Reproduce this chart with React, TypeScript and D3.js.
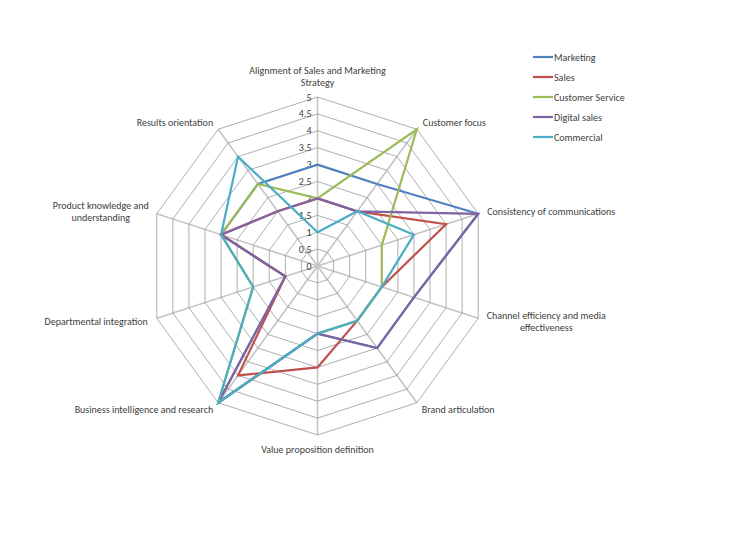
import React from "react";
import * as d3 from "d3";

const categories = [
  ["Alignment of Sales and Marketing", "Strategy"],
  ["Customer focus"],
  ["Consistency of communications"],
  ["Channel efficiency and media", "effectiveness"],
  ["Brand articulation"],
  ["Value proposition definition"],
  ["Business intelligence and research"],
  ["Departmental integration"],
  ["Product knowledge and", "understanding"],
  ["Results orientation"],
];

const seriesNames = ["Marketing", "Sales", "Customer Service", "Digital sales", "Commercial"];
const seriesColors = ["#4F81BD", "#C0504D", "#9BBB59", "#8064A2", "#4BACC6"];

const marketing = [3, 3, 5, 3, 3, 2, 5, 1, 3, 3];
const sales = [2, 2, 4, 2, 2, 3, 4, 1, 3, 2];
const customerService = [2, 5, 2, 2, 2, 2, 5, 2, 3, 3];
const digitalSales = [2, 2, 5, 3, 3, 2, 5, 1, 3, 2];
const commercial = [1, 2, 3, 2, 2, 2, 5, 2, 3, 4];

const seriesValues = [marketing, sales, customerService, digitalSales, commercial];
const ticks = [0, 0.5, 1, 1.5, 2, 2.5, 3, 3.5, 4, 4.5, 5];

// label anchors: [anchor, dx, dy] relative to the outer vertex
const labelPlacement: [string, number, number][] = [
  ["middle", 0, -23],
  ["start", 6, -3],
  ["start", 9, 1],
  ["middle", 68, 1],
  ["start", 5, 10],
  ["middle", 0, 18],
  ["end", -5, 10],
  ["end", -9, 7],
  ["middle", -56, -5],
  ["end", -5, -3],
];

export default function App() {
  const W = 749;
  const H = 534;
  const cx = 317.5;
  const cy = 266;
  const R = 169;
  const n = categories.length;
  const r = d3.scaleLinear().domain([0, 5]).range([0, R]);
  const angle = (i: number) => (i * 2 * Math.PI) / n;
  const pt = (i: number, v: number): [number, number] => [
    cx + r(v) * Math.sin(angle(i)),
    cy - r(v) * Math.cos(angle(i)),
  ];
  const line = d3
    .line<number>()
    .x((v, i) => pt(i, v)[0])
    .y((v, i) => pt(i, v)[1])
    .curve(d3.curveLinearClosed);
  const font = "Carlito, Calibri, Lato, sans-serif";
  const fs = 10;

  return (
    <svg
      width={W}
      height={H}
      style={{ position: "absolute", left: 0, top: 0, background: "#fff" }}
      fontFamily={font}
    >
      {/* spokes */}
      {categories.map((_, i) => {
        const [x, y] = pt(i, 5);
        return <line key={"s" + i} x1={cx} y1={cy} x2={x} y2={y} stroke="#c4c4c4" strokeWidth={1.6} />;
      })}
      {/* rings */}
      {ticks.slice(1).map((t) => (
        <path
          key={"r" + t}
          d={line(categories.map(() => t)) || ""}
          fill="none"
          stroke="#9a9a9a"
          strokeWidth={0.8}
        />
      ))}
      {/* tick labels */}
      {ticks.map((t) => (
        <text key={"t" + t} x={cx - 6} y={cy - r(t) + 3.5} textAnchor="end" fontSize={fs} fill="#404040">
          {String(t)}
        </text>
      ))}
      {/* category labels */}
      {categories.map((lines, i) => {
        const [x, y] = pt(i, 5);
        const [anchor, dx, dy] = labelPlacement[i];
        return (
          <text key={"c" + i} x={x + dx} y={y + dy} textAnchor={anchor as any} fontSize={fs} fill="#404040">
            {lines.map((l, k) => (
              <tspan key={k} x={x + dx} dy={k === 0 ? 0 : 12}>
                {l}
              </tspan>
            ))}
          </text>
        );
      })}
      {/* series */}
      {seriesValues.map((vals, s) => (
        <path
          key={"p" + s}
          d={line(vals) || ""}
          fill="none"
          stroke={seriesColors[s]}
          strokeWidth={2.2}
          strokeLinejoin="miter"
        />
      ))}
      {/* legend */}
      {seriesNames.map((name, s) => (
        <g key={"l" + s} transform={`translate(533, ${57 + s * 20})`}>
          <line x1={0} x2={20} y1={0} y2={0} stroke={seriesColors[s]} strokeWidth={2.2} />
          <text x={21} y={3.5} fontSize={fs} fill="#404040">
            {name}
          </text>
        </g>
      ))}
    </svg>
  );
}
